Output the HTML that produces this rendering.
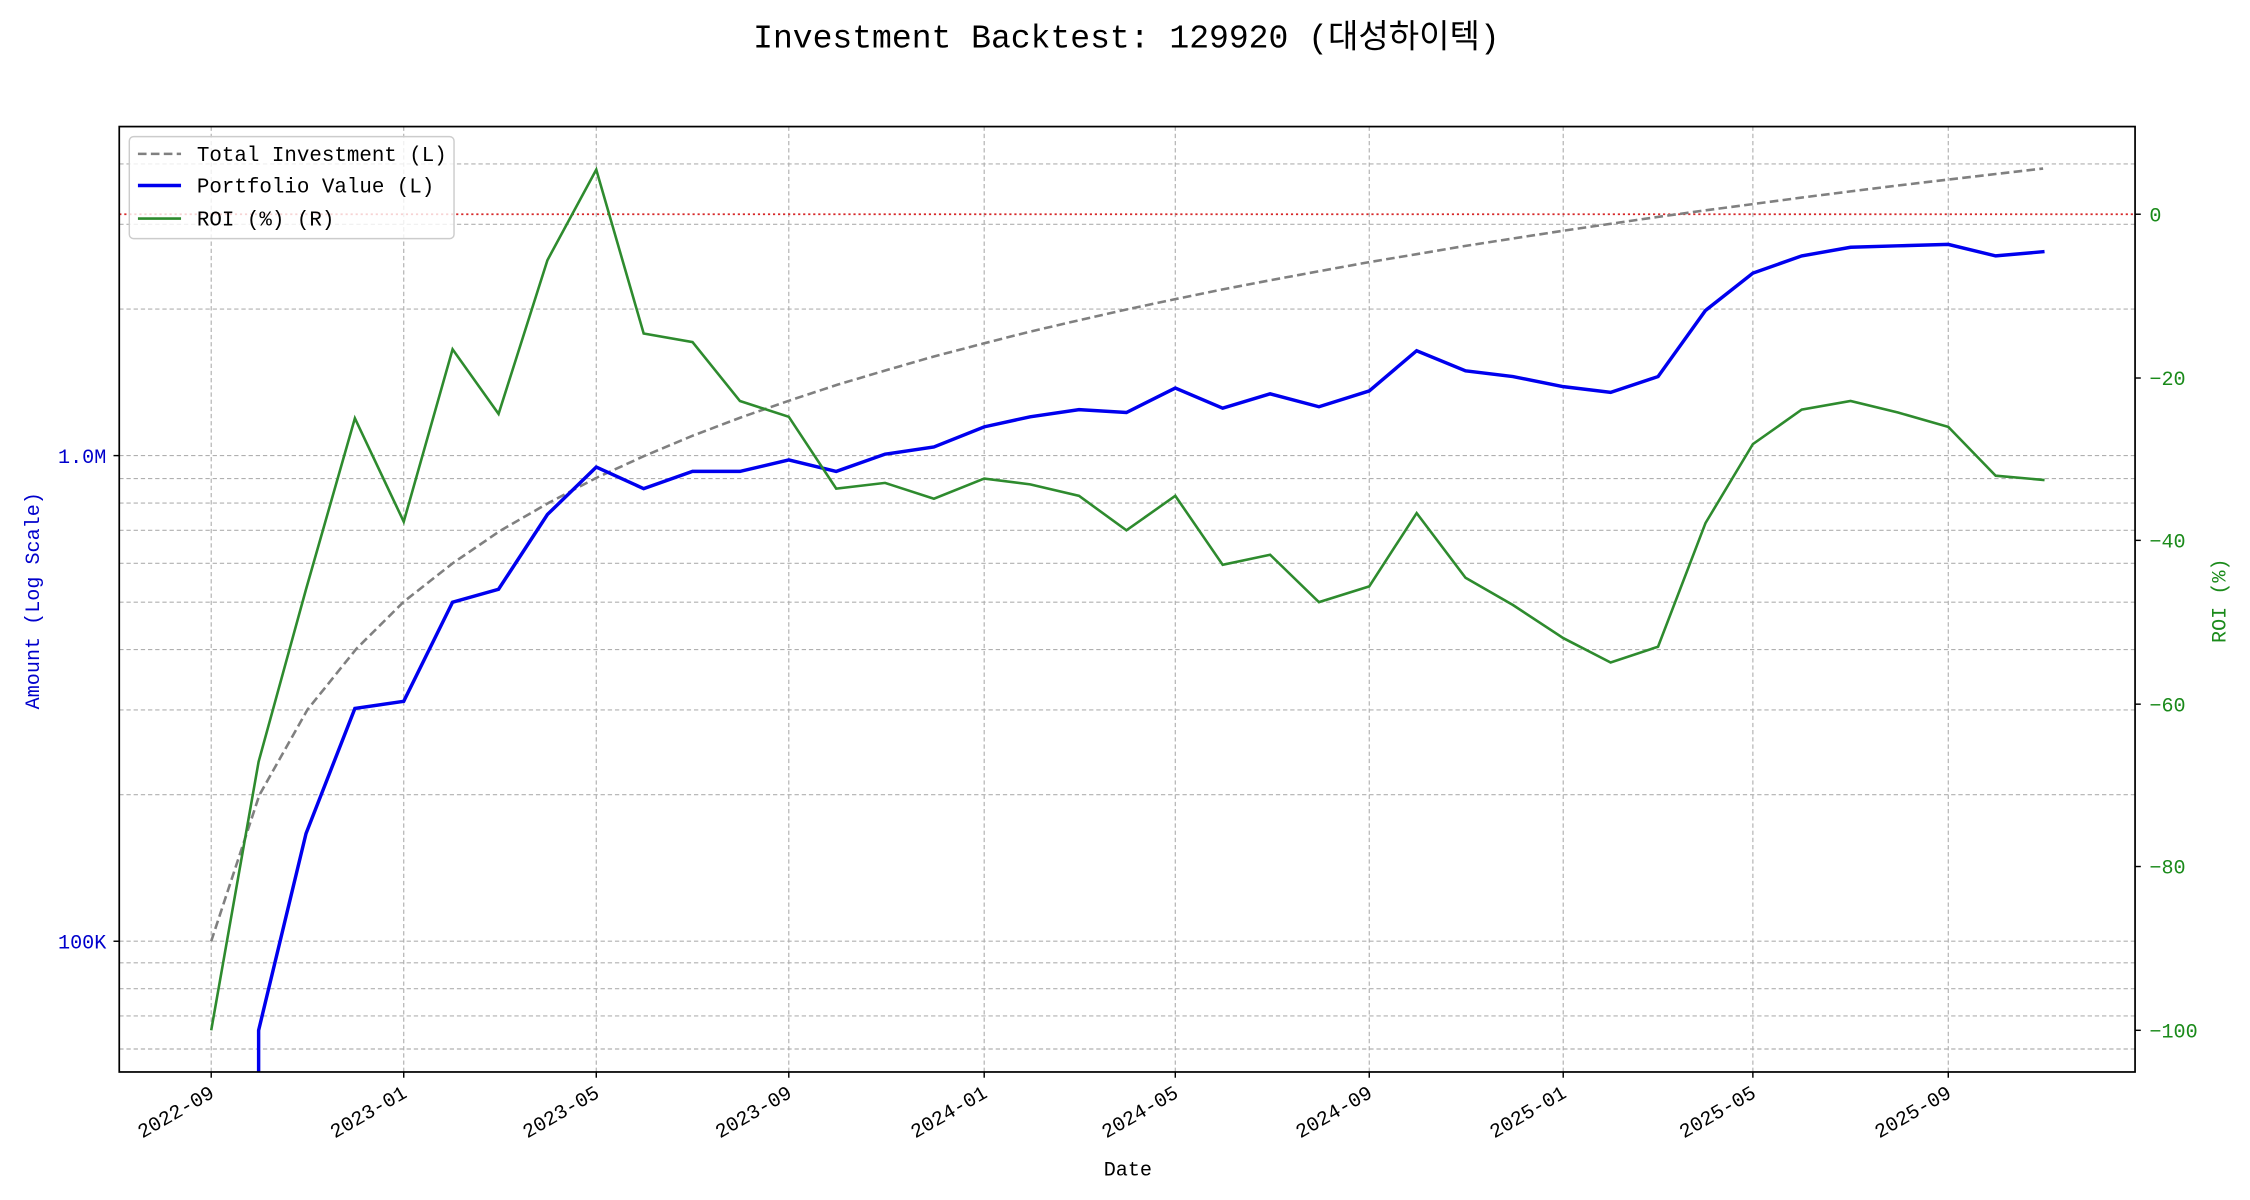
<!DOCTYPE html>
<html><head><meta charset="utf-8"><style>
html,body{margin:0;padding:0;background:#fff;}
svg{display:block;}
text{font-family:"Liberation Mono","Noto Sans CJK KR",monospace;}
</style></head><body>
<svg width="2250" height="1200" viewBox="0 0 1566 835" xmlns="http://www.w3.org/2000/svg">
<rect width="1566" height="835" fill="#fff"/>
<text x="784" y="33" font-size="23" text-anchor="middle" fill="#000">Investment Backtest: 129920 (대성하이텍)</text>
<g stroke="#b0b0b0" stroke-width="0.8" stroke-dasharray="3,2" fill="none">
<line x1="83" x2="1486" y1="730" y2="730"/><line x1="83" x2="1486" y1="707" y2="707"/>
<line x1="83" x2="1486" y1="688" y2="688"/><line x1="83" x2="1486" y1="670" y2="670"/>
<line x1="83" x2="1486" y1="655" y2="655"/><line x1="83" x2="1486" y1="553" y2="553"/>
<line x1="83" x2="1486" y1="494" y2="494"/><line x1="83" x2="1486" y1="452" y2="452"/>
<line x1="83" x2="1486" y1="419" y2="419"/><line x1="83" x2="1486" y1="392" y2="392"/>
<line x1="83" x2="1486" y1="369" y2="369"/><line x1="83" x2="1486" y1="350" y2="350"/>
<line x1="83" x2="1486" y1="333" y2="333"/><line x1="83" x2="1486" y1="317" y2="317"/>
<line x1="83" x2="1486" y1="215" y2="215"/><line x1="83" x2="1486" y1="156" y2="156"/>
<line x1="83" x2="1486" y1="114" y2="114"/>
<line y1="88" y2="746" x1="147" x2="147"/><line y1="88" y2="746" x1="281" x2="281"/>
<line y1="88" y2="746" x1="415" x2="415"/><line y1="88" y2="746" x1="549" x2="549"/>
<line y1="88" y2="746" x1="685" x2="685"/><line y1="88" y2="746" x1="818" x2="818"/>
<line y1="88" y2="746" x1="953" x2="953"/><line y1="88" y2="746" x1="1088" x2="1088"/>
<line y1="88" y2="746" x1="1220" x2="1220"/><line y1="88" y2="746" x1="1356" x2="1356"/>
</g>
<line x1="83" x2="1486" y1="149" y2="149" stroke="#d62728" stroke-width="1.2" stroke-dasharray="1.5,2"/>
<polyline fill="none" stroke="#808080" stroke-width="1.8" stroke-dasharray="6,3" points="147,655 180.5,553.3 214,493.8 248,451.5 281,418.7 315,392 348,369.4 382,349.8 415,332.5 449,317 482.5,303 516,290.3 550,278.5 583,267.6 617,257.5 650,248 684,239.1 717,230.7 751,222.8 784,215.3 818,208.1 851,201.3 885,194.8 919,188.5 952,182.5 986,176.8 1019,171.2 1053,165.9 1086,160.8 1120,155.8 1153,151 1187,146.3 1221,141.8 1254,137.4 1288,133.1 1321,129 1355,125 1389,121 1422,117.2"/>
<polyline fill="none" stroke="#0000ee" stroke-width="2.4" points="180,746 180,717 213,580 247,493 281,488 315,419 347,410 381,358 415,325 448,340 482,328 515,328 549,320 582,328 616,316 650,311 685,297 717,290 751,285 784,287 818,270 851,284 884,274 918,283 953,272 986,244 1020,258 1053,262 1088,269 1121,273 1154,262 1187,216 1220,190 1254,178 1288,172 1321,171 1356,170 1389,178 1423,175"/>
<polyline fill="none" stroke="#2e8b2e" stroke-width="1.8" points="147,717 180,530 213,410 247,291 281,363 315,243 347,288 381,181 415,118 448,232 482,238 515,279 549,290 582,340 616,336 650,347 685,333 717,337 751,345 784,369 818,345 851,393 884,386 918,419 953,408 986,357 1020,402 1053,421 1088,444 1121,461 1154,450 1187,364 1220,309 1254,285 1288,279 1321,287 1356,297 1389,331 1423,334"/>
<rect x="83" y="88" width="1403" height="658" fill="none" stroke="#000" stroke-width="1.2"/>
<g stroke="#000" stroke-width="1">
<line x1="79" x2="83" y1="317" y2="317"/><line x1="79" x2="83" y1="655" y2="655"/>
<line x1="1486" x2="1490" y1="149" y2="149"/><line x1="1486" x2="1490" y1="263" y2="263"/>
<line x1="1486" x2="1490" y1="376" y2="376"/><line x1="1486" x2="1490" y1="490" y2="490"/>
<line x1="1486" x2="1490" y1="603" y2="603"/><line x1="1486" x2="1490" y1="717" y2="717"/>
<line y1="746" y2="750" x1="147" x2="147"/><line y1="746" y2="750" x1="281" x2="281"/>
<line y1="746" y2="750" x1="415" x2="415"/><line y1="746" y2="750" x1="549" x2="549"/>
<line y1="746" y2="750" x1="685" x2="685"/><line y1="746" y2="750" x1="818" x2="818"/>
<line y1="746" y2="750" x1="953" x2="953"/><line y1="746" y2="750" x1="1088" x2="1088"/>
<line y1="746" y2="750" x1="1220" x2="1220"/><line y1="746" y2="750" x1="1356" x2="1356"/>
</g>
<g font-size="14" fill="#0000cc" text-anchor="end">
<text x="74" y="322">1.0M</text><text x="74" y="660">100K</text>
</g>
<g font-size="14" fill="#1a8a1a">
<text x="1496" y="154">0</text><text x="1496" y="268">−20</text><text x="1496" y="381">−40</text>
<text x="1496" y="495">−60</text><text x="1496" y="608">−80</text><text x="1496" y="722">−100</text>
</g>
<g font-size="14" fill="#000" text-anchor="end">
<text transform="translate(150,763) rotate(-30)">2022-09</text>
<text transform="translate(284,763) rotate(-30)">2023-01</text>
<text transform="translate(418,763) rotate(-30)">2023-05</text>
<text transform="translate(552,763) rotate(-30)">2023-09</text>
<text transform="translate(688,763) rotate(-30)">2024-01</text>
<text transform="translate(821,763) rotate(-30)">2024-05</text>
<text transform="translate(956,763) rotate(-30)">2024-09</text>
<text transform="translate(1091,763) rotate(-30)">2025-01</text>
<text transform="translate(1223,763) rotate(-30)">2025-05</text>
<text transform="translate(1359,763) rotate(-30)">2025-09</text>
</g>
<text x="785" y="818" font-size="14" text-anchor="middle">Date</text>
<text transform="translate(27,418) rotate(-90)" font-size="14" fill="#0000cc" text-anchor="middle">Amount (Log Scale)</text>
<text transform="translate(1549,418) rotate(-90)" font-size="14" fill="#1a8a1a" text-anchor="middle">ROI (%)</text>
<rect x="90" y="95" width="226" height="71" rx="3" fill="#fff" fill-opacity="0.8" stroke="#ccc" stroke-width="1"/>
<line x1="96" x2="126" y1="107" y2="107" stroke="#808080" stroke-width="1.8" stroke-dasharray="6,3"/>
<line x1="96" x2="126" y1="129" y2="129" stroke="#0000ee" stroke-width="2.4"/>
<line x1="96" x2="126" y1="152" y2="152" stroke="#2e8b2e" stroke-width="1.8"/>
<g font-size="14.5" fill="#000">
<text x="137" y="112">Total Investment (L)</text>
<text x="137" y="134">Portfolio Value (L)</text>
<text x="137" y="157">ROI (%) (R)</text>
</g>
</svg>
</body></html>
